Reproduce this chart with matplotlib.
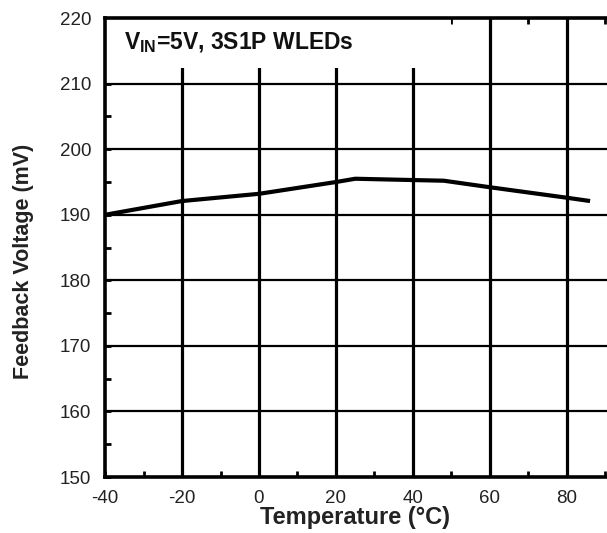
import matplotlib.pyplot as plt
import matplotlib.patches as mpatches
from matplotlib.ticker import MultipleLocator

# ── DATA ──────────────────────────────────────────────────────────────────────
temp_c = [-40, -20, 0, 20, 25, 40, 48, 60, 80, 86]
fb_mv = [190.0, 192.1, 193.2, 195.0, 195.5, 195.3, 195.2, 194.2, 192.6, 192.1]

x_ticks = [-40, -20, 0, 20, 40, 60, 80]
y_ticks = [150, 160, 170, 180, 190, 200, 210, 220]

plt.rcParams["font.family"] = ["Liberation Sans", "DejaVu Sans"]
plt.rcParams["axes.unicode_minus"] = False

fig = plt.figure(figsize=(6.07, 5.33), dpi=100)
ax = fig.add_axes([0.173, 0.105, 0.834, 0.861])

ax.set_xlim(-40, 91.5)
ax.set_ylim(150, 220)
ax.set_xticks(x_ticks)
ax.set_yticks(y_ticks)
ax.xaxis.set_minor_locator(MultipleLocator(10))
ax.yaxis.set_minor_locator(MultipleLocator(5))

# grid: heavy verticals, slightly lighter horizontals
for xv in x_ticks[1:]:
    ax.axvline(xv, color="black", lw=2.3, zorder=1)
for yv in y_ticks[1:-1]:
    ax.axhline(yv, color="black", lw=1.6, zorder=1)

# white box behind the condition label
ax.add_patch(mpatches.Rectangle((-40, 212.4), 90, 7.6, facecolor="white",
                                edgecolor="none", zorder=2))
ax.text(-35, 216.3, r"V$_{\mathregular{IN}}$=5V, 3S1P WLEDs", fontsize=16.5,
        fontweight="bold", va="center", ha="left", zorder=3, color="#111111")

ax.plot(temp_c, fb_mv, color="black", lw=3, zorder=4, solid_capstyle="butt")

for sp in ax.spines.values():
    sp.set_linewidth(2.6)
    sp.set_zorder(5)

ax.tick_params(which="both", direction="in", top=True, right=False,
               width=2, labelsize=13.5, labelcolor="#222222")
ax.tick_params(which="major", length=4)
ax.tick_params(which="minor", length=4)
ax.tick_params(axis="x", pad=9)
ax.tick_params(axis="y", pad=10)

ax.set_xlabel("Temperature (°C)", fontsize=17, fontweight="bold",
              color="#222222", va="center")
ax.xaxis.set_label_coords(0.494, -0.089)
ax.set_ylabel("Feedback Voltage (mV)", fontsize=15.5, fontweight="bold",
              color="#222222", va="center")
ax.yaxis.set_label_coords(-0.162, 0.47)

fig.savefig("out.png", dpi=100)
